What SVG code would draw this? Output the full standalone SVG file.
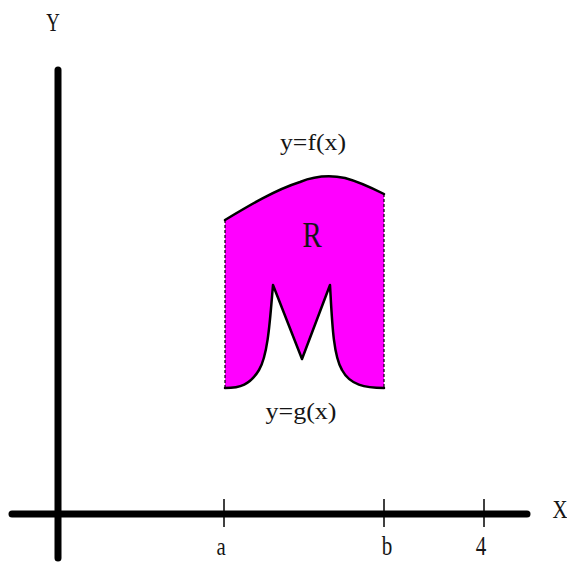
<svg xmlns="http://www.w3.org/2000/svg" width="567" height="562" viewBox="0 0 567 562">
<style>
.lbl{font-family:"Liberation Serif","Times New Roman",serif;fill:#151515;text-anchor:middle;}
.axis{stroke:#000;stroke-width:7;stroke-linecap:round;fill:none;}
.tick{stroke:#000;stroke-width:1.5;}
.curve{stroke:#000;stroke-width:2.5;fill:none;stroke-linecap:round;stroke-linejoin:round;}
.dash{stroke:#000;stroke-width:1.2;stroke-dasharray:3,2;fill:none;}
</style>
<rect width="567" height="562" fill="#fff"/>
<g id="axes">
<line class="axis" x1="12" y1="514" x2="527" y2="514"/>
<line class="axis" x1="58" y1="70" x2="58" y2="558"/>
<line class="tick" x1="224" y1="499" x2="224" y2="527"/>
<line class="tick" x1="384" y1="499" x2="384" y2="527"/>
<line class="tick" x1="484" y1="499" x2="484" y2="527"/>
<text class="lbl" font-size="25" transform="translate(53,31) scale(0.75,1)">Y</text>
<text class="lbl" font-size="26" transform="translate(560,518) scale(0.8,1)">X</text>
<text class="lbl" font-size="26" transform="translate(221,555) scale(0.8,1)">a</text>
<text class="lbl" font-size="27" transform="translate(387,555) scale(0.78,1)">b</text>
<text class="lbl" font-size="27" transform="translate(481,555) scale(0.78,1)">4</text>
</g>
<g id="region">
<path fill="#ff00ff" d="M225,220 C250,205 275,190 300,182 C315,176 330,175 345,178 C360,182 372,188 384,194 L384,388 C365,388 350,385 342,370 C333,355 332,320 330,285 L302,359 L273,285 C270,320 268,355 259,370 C250,385 240,388 225,388 Z"/>
<path class="curve" d="M225,220 C250,205 275,190 300,182 C315,176 330,175 345,178 C360,182 372,188 384,194"/>
<path class="curve" d="M384,388 C365,388 350,385 342,370 C333,355 332,320 330,285 L302,359 L273,285 C270,320 268,355 259,370 C250,385 240,388 225,388"/>
<line class="dash" x1="225" y1="220" x2="225" y2="388"/>
<line class="dash" x1="384" y1="194" x2="384" y2="388"/>
<text class="lbl" font-size="36" transform="translate(312,247) scale(0.8,1)">R</text>
</g>
<g id="labels">
<text class="lbl" x="313" y="150" font-size="24" textLength="66" lengthAdjust="spacingAndGlyphs">y=f(x)</text>
<text class="lbl" x="301" y="419" font-size="24" textLength="71" lengthAdjust="spacingAndGlyphs">y=g(x)</text>
</g>
</svg>
